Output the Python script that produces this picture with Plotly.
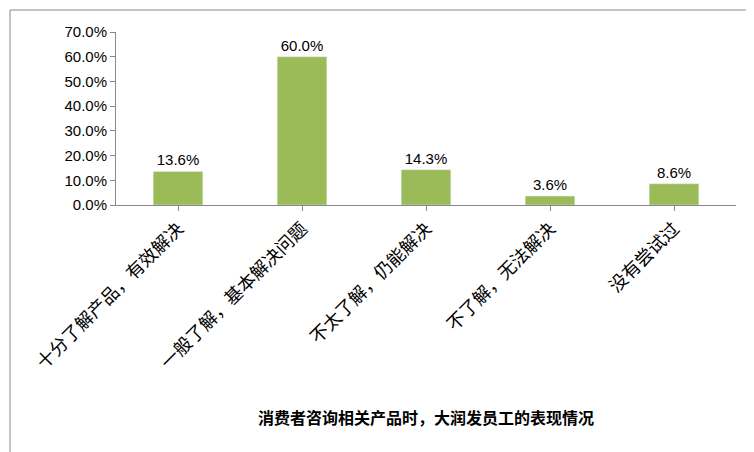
import plotly.graph_objects as go

categories = ["十分了解产品，有效解决", "一般了解，基本解决问题", "不太了解，仍能解决", "不了解，无法解决", "没有尝试过"]
values = [13.6, 60.0, 14.3, 3.6, 8.6]
labels = [f"{v:.1f}%" for v in values]
tickvals = [0, 10, 20, 30, 40, 50, 60, 70]
ticktext = [f"{t:.1f}%" for t in tickvals]

fig = go.Figure(go.Bar(
    x=categories, y=values, marker_color="#9BBB59", width=0.4,
    text=labels, textposition="outside", cliponaxis=False,
    textfont=dict(size=15, color="black", family="Liberation Sans, Arial"),
))
fig.update_layout(
    width=754, height=452, margin=dict(l=108, r=26, t=24, b=255),
    paper_bgcolor="white", plot_bgcolor="white", showlegend=False,
    font=dict(family="Noto Sans CJK SC, Liberation Sans", color="black"),
    shapes=[dict(type="rect", xref="paper", yref="paper", x0=-106/620, x1=1+23/620,
                 y0=-253/173, y1=1+22/173, line=dict(color="#888888", width=1))],
)
fig.update_yaxes(range=[0, 70], tickvals=tickvals, ticktext=ticktext, showgrid=False,
                 showline=True, linecolor="#888888", ticks="outside", ticklen=5, tickcolor="#888888",
                 tickfont=dict(size=15, family="Liberation Sans, Arial"), zeroline=False,
                 automargin=False)
fig.update_xaxes(showline=True, linecolor="#888888", ticks="outside", tickcolor="#888888",
                 tickangle=-45, tickfont=dict(size=18, family="Noto Sans CJK SC"), automargin=False,
                 title=dict(text="<b>消费者咨询相关产品时，大润发员工的表现情况</b>",
                            font=dict(size=16, family="Noto Sans CJK SC"), standoff=40))
fig.update_traces(textfont_size=15)
fig.write_html("out.html")
